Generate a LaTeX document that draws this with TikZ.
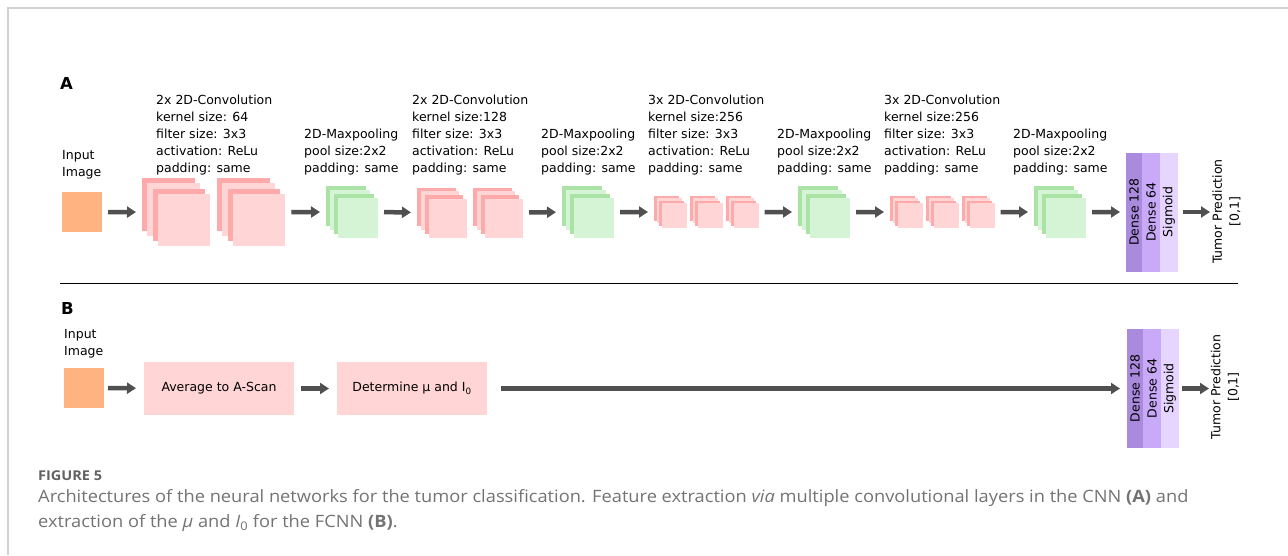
\documentclass[tikz,border=0pt]{standalone}
\usepackage{fontspec}
\setmainfont{DejaVu Sans}
\newfontfamily\capfont[FakeStretch=1.074]{Open Sans}
\usetikzlibrary{arrows.meta}
\definecolor{pinkD}{HTML}{FFAAAA}
\definecolor{pinkL}{HTML}{FFD5D5}
\definecolor{greenD}{HTML}{AAE3A5}
\definecolor{greenL}{HTML}{D5F3D5}
\definecolor{orangeIn}{HTML}{FFB380}
\definecolor{purD}{HTML}{A98ADD}
\definecolor{purM}{HTML}{C9AAF8}
\definecolor{purL}{HTML}{E5D5FF}
\definecolor{arrowgray}{HTML}{505050}
\definecolor{framegray}{HTML}{D2D2D2}
\definecolor{capgray}{HTML}{737373}
\newcommand\layerstack[6]{%
  \pgfmathsetmacro\lsoff{0.1*#4}%
  \fill[#5] (#2,#3) rectangle ++(#4,#4);
  \fill[#6] (#2+\lsoff,#3+\lsoff) rectangle ++(#4,#4);
  \fill[#5] (#2+2*\lsoff,#3+2*\lsoff) rectangle ++(#4,#4);
  \fill[#6] (#2+3*\lsoff,#3+3*\lsoff) rectangle ++(#4,#4);
  \node[inner sep=0pt, outer sep=0pt, minimum width=1.3*#4, minimum height=1.3*#4, anchor=north west] (#1) at (#2,#3) {};
}
\begin{document}
\begin{tikzpicture}[x=1pt,y=-1pt,
  lbl/.style={font=\fontsize{12.5}{17}\selectfont, align=left, inner sep=0pt, anchor=north west},
  flow/.style={draw=arrowgray, line width=4.5pt, -{Triangle[length=9pt,width=11pt]}, shorten <=6pt, shorten >=6pt},
  inbox/.style={fill=orangeIn, minimum width=40, minimum height=40, inner sep=0pt, outer sep=0pt},
  dense/.style={rotate=90, inner sep=0pt, outer sep=0pt, minimum width=119, font=\fontsize{12.5}{15}\selectfont},
  stepbox/.style={fill=pinkL, minimum width=150, minimum height=53, inner sep=0pt, outer sep=0pt, font=\fontsize{12.5}{15}\selectfont},
  panel/.style={font=\fontsize{16.5}{20}\selectfont\bfseries, inner sep=0pt, anchor=north west},
  pred/.style={rotate=90, align=center, inner sep=0pt, font=\fontsize{12.5}{17}\selectfont}]
\useasboundingbox (0,0) rectangle (1288,555);
% frame
\draw[framegray, line width=2pt] (7.5,555) -- (7.5,8) -- (1288,8);
% ---------------- panel A
\node[panel] (labA) at (60,77) {A};
\node[lbl] (inAtxt) at (62,150) {Input\\Image};
\node[inbox] (inA) at (82,212) {};
\layerstack{c1a}{142}{178}{52.5}{pinkD}{pinkL}
\layerstack{c1b}{217}{178}{52.5}{pinkD}{pinkL}
\layerstack{p1}{326}{186}{40}{greenD}{greenL}
\layerstack{c2a}{417}{187.5}{38.5}{pinkD}{pinkL}
\layerstack{c2b}{473}{187.5}{38.5}{pinkD}{pinkL}
\layerstack{p2}{562}{186}{40}{greenD}{greenL}
\layerstack{c3a}{654}{195.75}{25}{pinkD}{pinkL}
\layerstack{c3b}{690}{195.75}{25}{pinkD}{pinkL}
\layerstack{c3c}{726}{195.75}{25}{pinkD}{pinkL}
\layerstack{p3}{798}{186}{40}{greenD}{greenL}
\layerstack{c4a}{890}{195.75}{25}{pinkD}{pinkL}
\layerstack{c4b}{926}{195.75}{25}{pinkD}{pinkL}
\layerstack{c4c}{962}{195.75}{25}{pinkD}{pinkL}
\layerstack{p4}{1034}{186}{40}{greenD}{greenL}
\node[lbl] (t1) at (156,94.5) {2x 2D-Convolution\\kernel size: 64\\filter size: 3x3\\activation: ReLu\\padding: same};
\node[lbl] (t2) at (304,128.5) {2D-Maxpooling\\pool size:2x2\\padding: same};
\node[lbl] (t3) at (412,94.5) {2x 2D-Convolution\\kernel size:128\\filter size: 3x3\\activation: ReLu\\padding: same};
\node[lbl] (t4) at (541,128.5) {2D-Maxpooling\\pool size:2x2\\padding: same};
\node[lbl] (t5) at (648,94.5) {3x 2D-Convolution\\kernel size:256\\filter size: 3x3\\activation: ReLu\\padding: same};
\node[lbl] (t6) at (777,128.5) {2D-Maxpooling\\pool size:2x2\\padding: same};
\node[lbl] (t7) at (884,94.5) {3x 2D-Convolution\\kernel size:256\\filter size: 3x3\\activation: ReLu\\padding: same};
\node[lbl] (t8) at (1013,128.5) {2D-Maxpooling\\pool size:2x2\\padding: same};
\node[dense, fill=purD, minimum height=16] (dA1) at (1134,212) {Dense 128};
\node[dense, fill=purM, minimum height=18] (dA2) at (1151,212) {Dense 64};
\node[dense, fill=purL, minimum height=18] (dA3) at (1169,212) {Sigmoid};
\node[pred] (tpA) at (1226.5,211.5) {Tumor Prediction\\{[0,1]}};
\coordinate (tA) at (1210,212);
\draw[flow] (inA) -- (c1a);
\draw[flow] (c1b) -- (p1);
\draw[flow] (p1) -- (c2a);
\draw[flow] (c2b) -- (p2);
\draw[flow] (p2) -- (c3a);
\draw[flow] (c3c) -- (p3);
\draw[flow] (p3) -- (c4a);
\draw[flow] (c4c) -- (p4);
\draw[flow] (p4) -- (dA1);
\draw[flow, shorten <=5pt, shorten >=0pt] (dA3) -- (tA);
% separator
\draw[line width=1.3pt] (60,283.5) coordinate (sepL) -- (1238,283.5) coordinate (sepR);
% ---------------- panel B
\node[panel] (labB) at (61,302) {B};
\node[lbl] (inBtxt) at (64,329.5) {Input\\Image};
\node[inbox] (inB) at (84,388) {};
\node[stepbox] (avg) at (219,388.5) {Average to A-Scan};
\node[stepbox] (det) at (412,388.5) {Determine µ and I\textsubscript{0}};
\node[dense, fill=purD, minimum height=16] (dB1) at (1135,388.5) {Dense 128};
\node[dense, fill=purM, minimum height=18] (dB2) at (1152,388.5) {Dense 64};
\node[dense, fill=purL, minimum height=18] (dB3) at (1170,388.5) {Sigmoid};
\node[pred] (tpB) at (1225,387) {Tumor Prediction\\{[0,1]}};
\coordinate (tB) at (1209,388.5);
\draw[flow, shorten <=4pt, shorten >=8pt] (inB) -- (avg);
\draw[flow, shorten <=7pt, shorten >=8pt] (avg) -- (det);
\draw[flow, shorten <=14pt, shorten >=7pt] (det) -- (dB1);
\draw[flow, shorten <=3pt, shorten >=0pt] (dB3) -- (tB);
% ---------------- caption
\node[inner sep=0pt, anchor=north west, font=\capfont\fontsize{13.5}{16}\selectfont\bfseries, text=capgray!85!black] (fig) at (38,471) {FIGURE 5};
\node[inner sep=0pt, anchor=north west, align=left, font=\capfont\fontsize{17}{25}\selectfont, text=capgray] (cap) at (38,489.5) {Architectures of the neural networks for the tumor classification. Feature extraction \textit{via} multiple convolutional layers in the CNN \textbf{(A)} and\\extraction of the \textit{μ} and \textit{I}\textsubscript{0} for the FCNN \textbf{(B)}.};
\end{tikzpicture}
\end{document}
